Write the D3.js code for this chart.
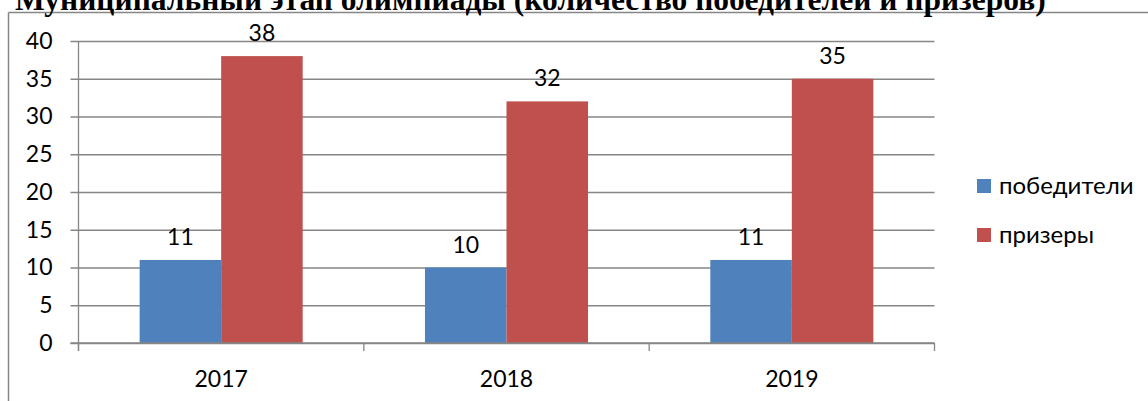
<!DOCTYPE html>
<html>
<head>
<meta charset="utf-8">
<script src="https://cdn.jsdelivr.net/npm/d3@7"></script>
<style>
  body { margin: 0; background: #fff; }
  svg { display: block; }
</style>
</head>
<body>
<div id="chart"></div>
<script>
const title = 'Муниципальный этап олимпиады (количество победителей и призеров)';
const years = ['2017', '2018', '2019'];
const seriesNames = ['победители', 'призеры'];
const winners = [11, 10, 11];
const prizewinners = [38, 32, 35];
const yTicks = [0, 5, 10, 15, 20, 25, 30, 35, 40];
const colors = ['#4F81BD', '#C0504D'];

const width = 1148;
const height = 401;
const plot = { left: 78.5, right: 934.5, top: 41, bottom: 343 };
const grid = '#868686';
const font = 'Lato, "Open Sans", sans-serif';

const svg = d3.select('#chart')
              .append('svg')
              .attr('width', width)
              .attr('height', height);

// frame around the chart (only top and left visible)
svg.append('line').attr('x1', 8.5).attr('x2', width).attr('y1', 12.5).attr('y2', 12.5)
   .attr('stroke', grid).attr('stroke-width', 1.5);
svg.append('line').attr('x1', 8.5).attr('x2', 8.5).attr('y1', 12.5).attr('y2', height)
   .attr('stroke', grid).attr('stroke-width', 1.5);

// title, cut by the top of the picture as in the original
svg.append('text')
   .attr('x', 15)
   .attr('y', 10)
   .attr('font-family', '"Liberation Serif", "Times New Roman", serif')
   .attr('font-weight', 'bold')
   .attr('font-size', 31.5)
   .attr('fill', '#000')
   .text(title);

const xScale = d3.scaleBand()
                 .domain(years)
                 .range([plot.left, plot.right]);

const xInner = d3.scaleBand()
                 .domain(seriesNames)
                 .range([0, xScale.bandwidth()])
                 .paddingOuter(0.75)
                 .paddingInner(0);

const yScale = d3.scaleLinear()
                 .domain([0, 40])
                 .range([plot.bottom, plot.top]);

// gridlines + y axis
const yAxis = d3.axisLeft(yScale)
                .tickValues(yTicks)
                .tickSize(plot.right - plot.left + 8)
                .tickFormat(d3.format('d'));

const gy = svg.append('g')
              .attr('transform', `translate(${plot.right},0)`)
              .call(yAxis);
gy.select('.domain').remove();
gy.selectAll('.tick line').attr('stroke', grid).attr('stroke-width', 1.3);
gy.selectAll('.tick text')
  .attr('x', -(plot.right - plot.left) - 26)
  .attr('font-family', font)
  .attr('font-size', 23)
  .attr('fill', '#000');

svg.append('line')
   .attr('x1', plot.left).attr('x2', plot.left)
   .attr('y1', plot.top).attr('y2', plot.bottom + 8)
   .attr('stroke', grid).attr('stroke-width', 1.3);

const data = years.map((y, i) => ({ year: y, values: [winners[i], prizewinners[i]] }));

const groups = svg.selectAll('g.year')
                  .data(data)
                  .enter()
                  .append('g')
                  .attr('class', 'year')
                  .attr('transform', (d) => `translate(${xScale(d.year)},0)`);

groups.selectAll('rect')
      .data((d) => d.values.map((v, j) => ({ name: seriesNames[j], value: v, j: j })))
      .enter()
      .append('rect')
      .attr('x', (d) => xInner(d.name))
      .attr('y', (d) => yScale(d.value))
      .attr('width', xInner.bandwidth())
      .attr('height', (d) => yScale(0) - yScale(d.value))
      .attr('fill', (d) => colors[d.j]);

groups.selectAll('text.val')
      .data((d) => d.values.map((v, j) => ({ name: seriesNames[j], value: v })))
      .enter()
      .append('text')
      .attr('class', 'val')
      .attr('x', (d) => xInner(d.name) + xInner.bandwidth() / 2)
      .attr('y', (d) => yScale(d.value) - 15)
      .attr('text-anchor', 'middle')
      .attr('font-family', font)
      .attr('font-size', 23)
      .text((d) => d.value);

// x axis
const xAxis = d3.axisBottom(xScale).tickSize(0).tickPadding(28);
const gx = svg.append('g')
              .attr('transform', `translate(0,${plot.bottom})`)
              .call(xAxis);
gx.select('.domain').remove();
gx.selectAll('.tick text')
  .attr('font-family', font)
  .attr('font-size', 23)
  .attr('fill', '#000');

svg.append('line')
   .attr('x1', plot.left - 8).attr('x2', plot.right)
   .attr('y1', plot.bottom).attr('y2', plot.bottom)
   .attr('stroke', grid).attr('stroke-width', 1.3);

// category boundary ticks below the axis
const bounds = years.map((y) => xScale(y)).concat([plot.right]);
svg.selectAll('line.xtick')
   .data(bounds)
   .enter()
   .append('line')
   .attr('class', 'xtick')
   .attr('x1', (d) => d).attr('x2', (d) => d)
   .attr('y1', plot.bottom).attr('y2', plot.bottom + 8)
   .attr('stroke', grid).attr('stroke-width', 1.3);

// legend
const legend = svg.selectAll('g.legend')
                  .data(seriesNames)
                  .enter()
                  .append('g')
                  .attr('class', 'legend')
                  .attr('transform', (d, i) => `translate(977,${179 + i * 49})`);
legend.append('rect')
      .attr('width', 14).attr('height', 14)
      .attr('fill', (d, i) => colors[i]);
legend.append('text')
      .attr('x', 22).attr('y', 7)
      .attr('dy', '0.35em')
      .attr('font-family', font)
      .attr('font-size', 24)
      .text((d) => d);
</script>
</body>
</html>
